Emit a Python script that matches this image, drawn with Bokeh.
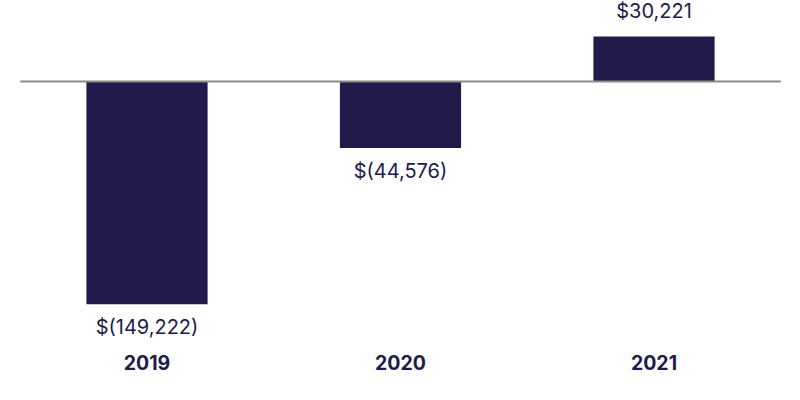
from bokeh.plotting import figure
from bokeh.models import Range1d, ColumnDataSource
from bokeh.core.properties import value
from bokeh.embed import file_html
from bokeh.resources import INLINE

categories = ["2019", "2020", "2021"]
values = [-149222, -44576, 30221]
value_labels = ["$(149,222)", "$(44,576)", "$30,221"]

BAR = "#221a4a"
TEXT = "#221a4a"
FONT = "Inter"

W, H = 784, 384
xs = list(range(len(categories)))

# pixel scales
px_per_cat = 253.5
x_start = -146.5 / px_per_cat
x_end = x_start + W / px_per_cat
zero_px = 81.0
k = 222.7 / 149222.0  # px per unit
y_top = zero_px / k
y_bot = -(H - zero_px) / k

p = figure(width=W, height=H, output_backend="svg", toolbar_location=None,
           x_range=Range1d(x_start, x_end), y_range=Range1d(y_bot, y_top),
           min_border=0, outline_line_color=None)
p.axis.visible = False
p.grid.visible = False
p.background_fill_color = "white"
p.border_fill_color = "white"

src = ColumnDataSource(dict(x=xs, v=values, lab=value_labels, cat=categories,
                            yb=[y_bot] * len(xs)))

p.vbar(x="x", top="v", bottom=0, width=0.478, source=src,
       fill_color=BAR, line_color=None)

# zero line
p.segment(x0=[xs[0] - 0.5], x1=[xs[-1] + 0.5], y0=[0], y1=[0],
          line_color="#8a8a8a", line_width=2)

pos = [i for i, v in enumerate(values) if v >= 0]
neg = [i for i, v in enumerate(values) if v < 0]

p.text(x=[xs[i] for i in pos], y=[values[i] for i in pos],
       text=[value_labels[i] for i in pos],
       text_align="center", text_baseline="alphabetic", y_offset=-25,
       text_font=value(FONT), text_font_size="20px", text_color=TEXT)
p.text(x=[xs[i] for i in neg], y=[values[i] for i in neg],
       text=[value_labels[i] for i in neg],
       text_align="center", text_baseline="alphabetic", y_offset=23,
       text_font=value(FONT), text_font_size="20px", text_color=TEXT)

p.text(x="x", y="yb", text="cat", source=src,
       text_align="center", text_baseline="alphabetic", y_offset=-22.5,
       text_font=value(FONT), text_font_style="bold", text_font_size="19.5px",
       text_color=TEXT)

open("out.html", "w").write(file_html(p, INLINE))
